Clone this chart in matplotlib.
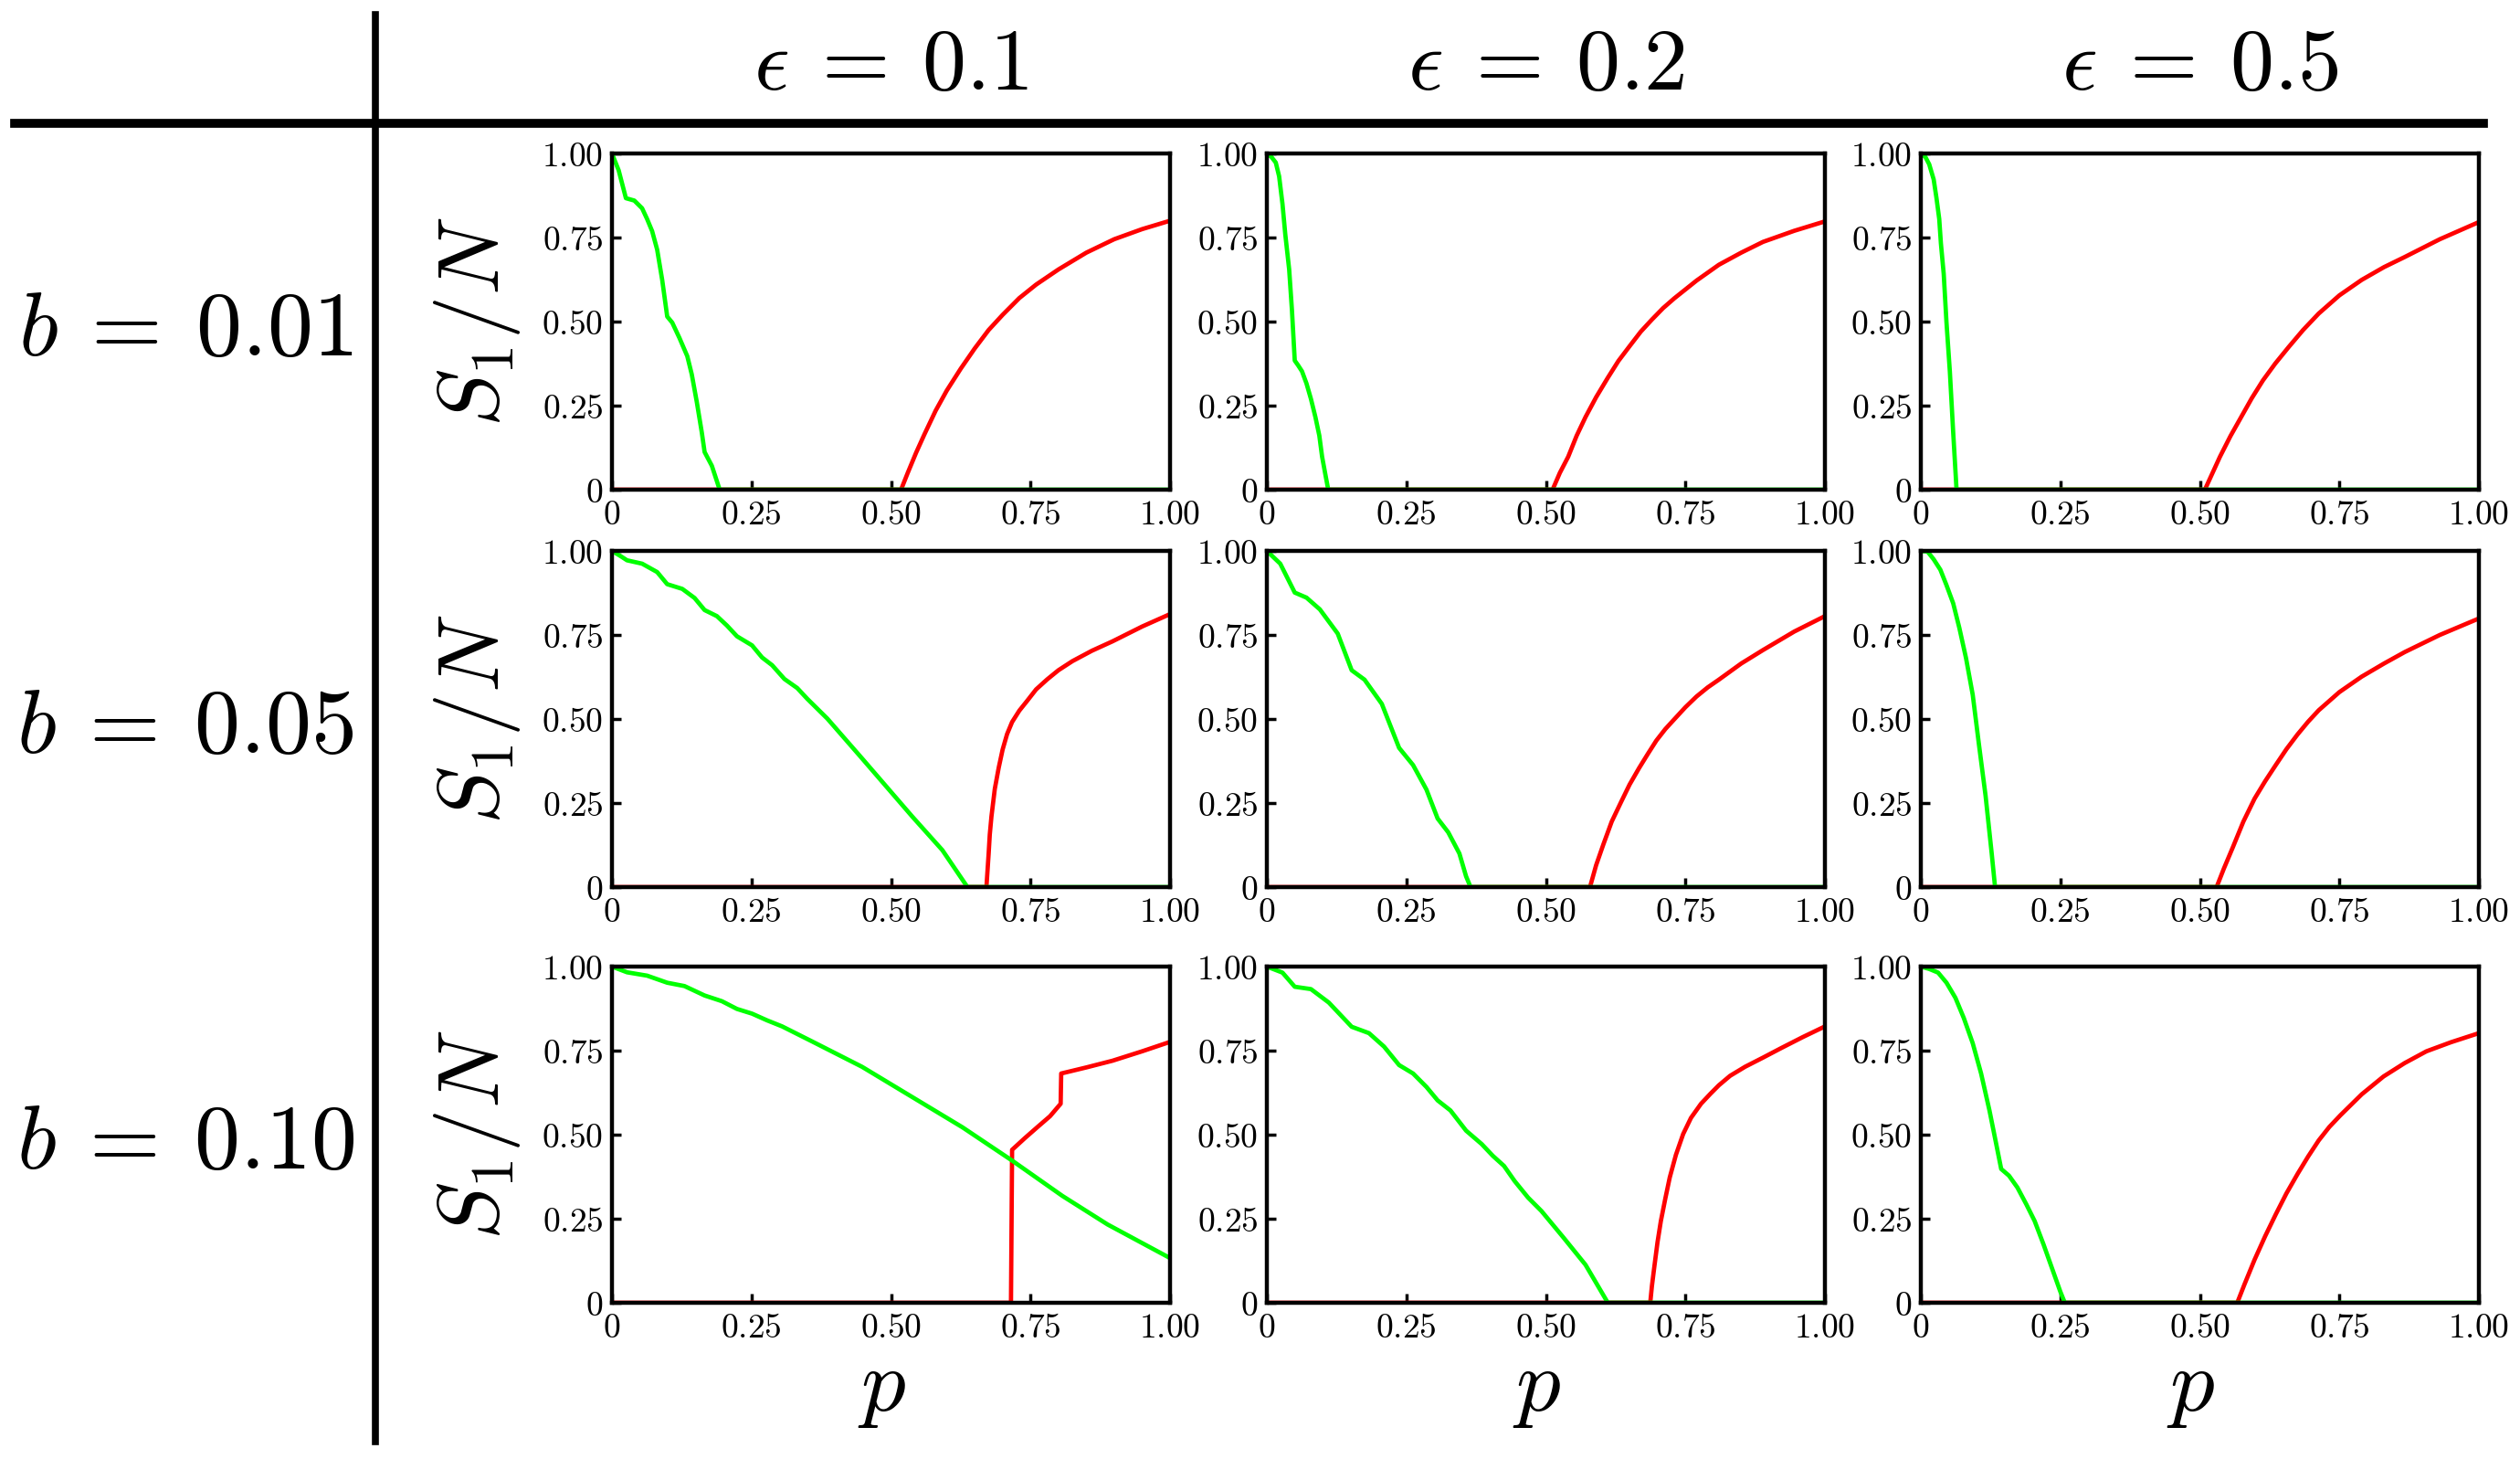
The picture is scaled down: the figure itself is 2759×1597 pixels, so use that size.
import matplotlib
import matplotlib.pyplot as plt
from matplotlib.lines import Line2D

matplotlib.use('Agg')
plt.rcParams['mathtext.fontset'] = 'cm'
plt.rcParams['font.family'] = 'serif'

b_labels = ['0.01', '0.05', '0.10']
eps_labels = ['0.1', '0.2', '0.5']
tick_vals = [0, 0.25, 0.5, 0.75, 1.0]
tick_labels = ['0', '0.25', '0.50', '0.75', '1.00']

# ---------------- b = 0.01 ----------------
green_p_b001_e01 = [0, 0.012, 0.025, 0.04, 0.054, 0.063, 0.072, 0.081, 0.09, 0.099, 0.108, 0.121, 0.135,
                    0.143, 0.152, 0.161, 0.166, 0.179, 0.193, 1.0]
green_s_b001_e01 = [1.0, 0.95, 0.867, 0.86, 0.837, 0.805, 0.769, 0.714, 0.624, 0.515, 0.497, 0.451, 0.397,
                    0.343, 0.261, 0.17, 0.112, 0.071, 0.0, 0.0]
red_p_b001_e01 = [0, 0.518, 0.53, 0.545, 0.56, 0.58, 0.60, 0.625, 0.65, 0.675, 0.70, 0.73, 0.76, 0.80,
                  0.85, 0.90, 0.95, 1.0]
red_s_b001_e01 = [0, 0, 0.05, 0.11, 0.165, 0.235, 0.295, 0.36, 0.42, 0.475, 0.52, 0.57, 0.61, 0.655,
                  0.705, 0.745, 0.775, 0.80]

green_p_b001_e02 = [0, 0.008, 0.016, 0.022, 0.028, 0.033, 0.04, 0.045, 0.05, 0.056, 0.063, 0.071, 0.079,
                    0.087, 0.094, 0.099, 0.105, 0.11, 1.0]
green_s_b001_e02 = [1.0, 0.99, 0.973, 0.932, 0.85, 0.76, 0.655, 0.533, 0.384, 0.37, 0.352, 0.316, 0.27,
                    0.216, 0.161, 0.098, 0.044, 0.0, 0.0]
red_p_b001_e02 = [0, 0.512, 0.525, 0.54, 0.555, 0.571, 0.59, 0.611, 0.63, 0.651, 0.67, 0.69, 0.71, 0.73,
                  0.77, 0.81, 0.85, 0.889, 0.945, 1.0]
red_s_b001_e02 = [0, 0, 0.05, 0.098, 0.16, 0.216, 0.275, 0.333, 0.383, 0.429, 0.47, 0.506, 0.54, 0.569,
                  0.622, 0.669, 0.705, 0.737, 0.77, 0.798]

green_p_b001_e05 = [0, 0.008, 0.015, 0.023, 0.028, 0.033, 0.036, 0.041, 0.046, 0.052, 0.058, 0.064, 1.0]
green_s_b001_e05 = [1.0, 0.99, 0.968, 0.923, 0.868, 0.805, 0.732, 0.642, 0.497, 0.352, 0.17, 0.0, 0.0]
red_p_b001_e05 = [0, 0.509, 0.52, 0.536, 0.555, 0.574, 0.593, 0.613, 0.635, 0.659, 0.685, 0.713, 0.75,
                  0.79, 0.83, 0.867, 0.93, 1.0]
red_s_b001_e05 = [0, 0, 0.04, 0.098, 0.16, 0.216, 0.272, 0.325, 0.375, 0.424, 0.475, 0.524, 0.578,
                  0.624, 0.662, 0.692, 0.745, 0.796]

# ---------------- b = 0.05 ----------------
green_p_b005_e01 = [0, 0.015, 0.027, 0.054, 0.081, 0.099, 0.126, 0.148, 0.166, 0.188, 0.206, 0.224, 0.251,
                    0.269, 0.287, 0.309, 0.332, 0.35, 0.386, 0.448, 0.538, 0.592, 0.637, 1.0]
green_s_b005_e01 = [1.0, 0.985, 0.972, 0.962, 0.937, 0.901, 0.887, 0.86, 0.824, 0.806, 0.778, 0.746, 0.719,
                    0.683, 0.66, 0.619, 0.592, 0.56, 0.501, 0.383, 0.21, 0.11, 0.0, 0.0]
red_p_b005_e01 = [0, 0.671, 0.673, 0.675, 0.677, 0.68, 0.686, 0.693, 0.700, 0.708, 0.717, 0.73, 0.744,
                  0.76, 0.78, 0.80, 0.825, 0.86, 0.897, 0.95, 1.0]
red_s_b005_e01 = [0, 0, 0.05, 0.10, 0.156, 0.21, 0.292, 0.355, 0.409, 0.455, 0.491, 0.525, 0.554,
                  0.588, 0.618, 0.645, 0.672, 0.703, 0.731, 0.775, 0.812]

green_p_b005_e02 = [0, 0.024, 0.05, 0.071, 0.095, 0.127, 0.152, 0.175, 0.206, 0.237, 0.262, 0.286, 0.306,
                    0.325, 0.345, 0.357, 0.365, 1.0]
green_s_b005_e02 = [1.0, 0.962, 0.876, 0.861, 0.826, 0.754, 0.645, 0.617, 0.545, 0.414, 0.363, 0.29, 0.204,
                    0.163, 0.1, 0.032, 0.0, 0.0]
red_p_b005_e02 = [0, 0.579, 0.59, 0.603, 0.618, 0.635, 0.65, 0.667, 0.683, 0.698, 0.714, 0.73, 0.75,
                  0.77, 0.79, 0.81, 0.85, 0.889, 0.945, 1.0]
red_s_b005_e02 = [0, 0, 0.065, 0.127, 0.195, 0.254, 0.305, 0.354, 0.397, 0.436, 0.47, 0.499, 0.535,
                  0.567, 0.594, 0.617, 0.665, 0.705, 0.76, 0.806]

green_p_b005_e05 = [0, 0.012, 0.023, 0.035, 0.046, 0.058, 0.069, 0.081, 0.093, 0.104, 0.116, 0.127,
                    0.133, 1.0]
green_s_b005_e05 = [1.0, 0.998, 0.975, 0.944, 0.898, 0.844, 0.771, 0.681, 0.572, 0.426, 0.272, 0.1,
                    0.0, 0.0]
red_p_b005_e05 = [0, 0.53, 0.543, 0.559, 0.578, 0.598, 0.617, 0.636, 0.655, 0.675, 0.694, 0.713, 0.75,
                  0.79, 0.83, 0.867, 0.93, 1.0]
red_s_b005_e05 = [0, 0, 0.055, 0.118, 0.195, 0.263, 0.315, 0.363, 0.41, 0.454, 0.492, 0.526, 0.58,
                  0.626, 0.665, 0.699, 0.75, 0.799]

# ---------------- b = 0.10 ----------------
green_p_b010_e01 = [0, 0.027, 0.063, 0.099, 0.13, 0.166, 0.197, 0.224, 0.251, 0.278, 0.305, 0.359, 0.448,
                    0.538, 0.628, 0.717, 0.807, 0.888, 1.0]
green_s_b010_e01 = [1.0, 0.983, 0.973, 0.952, 0.942, 0.914, 0.897, 0.874, 0.86, 0.84, 0.822, 0.777, 0.702,
                    0.612, 0.522, 0.423, 0.318, 0.233, 0.133]
red_p_b010_e01 = [0, 0.715, 0.717, 0.74, 0.762, 0.785, 0.804, 0.805, 0.85, 0.897, 0.95, 1.0]
red_s_b010_e01 = [0, 0, 0.455, 0.49, 0.522, 0.555, 0.592, 0.682, 0.70, 0.72, 0.748, 0.776]

green_p_b010_e02 = [0, 0.028, 0.05, 0.079, 0.111, 0.152, 0.183, 0.21, 0.237, 0.262, 0.286, 0.306, 0.329,
                    0.357, 0.385, 0.405, 0.425, 0.444, 0.468, 0.492, 0.532, 0.571, 0.611, 1.0]
green_s_b010_e02 = [1.0, 0.982, 0.94, 0.933, 0.893, 0.821, 0.802, 0.762, 0.707, 0.682, 0.642, 0.602, 0.572,
                    0.512, 0.472, 0.437, 0.407, 0.362, 0.313, 0.273, 0.193, 0.113, 0.0, 0.0]
red_p_b010_e02 = [0, 0.687, 0.69, 0.694, 0.70, 0.706, 0.714, 0.722, 0.733, 0.746, 0.76, 0.778, 0.795,
                  0.81, 0.83, 0.857, 0.89, 0.921, 0.96, 1.0]
red_s_b010_e02 = [0, 0, 0.05, 0.103, 0.18, 0.243, 0.31, 0.373, 0.44, 0.502, 0.55, 0.592, 0.622,
                  0.647, 0.675, 0.702, 0.73, 0.757, 0.79, 0.822]

green_p_b010_e05 = [0, 0.015, 0.031, 0.046, 0.062, 0.077, 0.093, 0.108, 0.123, 0.135, 0.144, 0.158,
                    0.173, 0.189, 0.204, 0.22, 0.235, 0.25, 0.258, 1.0]
green_s_b010_e05 = [1.0, 0.993, 0.982, 0.952, 0.907, 0.847, 0.772, 0.682, 0.572, 0.473, 0.398, 0.378,
                    0.343, 0.293, 0.243, 0.173, 0.103, 0.033, 0.0, 0.0]
red_p_b010_e05 = [0, 0.567, 0.58, 0.598, 0.617, 0.636, 0.655, 0.675, 0.694, 0.713, 0.732, 0.752, 0.79,
                  0.829, 0.867, 0.906, 0.95, 1.0]
red_s_b010_e05 = [0, 0, 0.055, 0.128, 0.198, 0.263, 0.325, 0.383, 0.435, 0.483, 0.523, 0.558, 0.62,
                  0.673, 0.713, 0.748, 0.775, 0.802]

panels = [
    [(green_p_b001_e01, green_s_b001_e01, red_p_b001_e01, red_s_b001_e01),
     (green_p_b001_e02, green_s_b001_e02, red_p_b001_e02, red_s_b001_e02),
     (green_p_b001_e05, green_s_b001_e05, red_p_b001_e05, red_s_b001_e05)],
    [(green_p_b005_e01, green_s_b005_e01, red_p_b005_e01, red_s_b005_e01),
     (green_p_b005_e02, green_s_b005_e02, red_p_b005_e02, red_s_b005_e02),
     (green_p_b005_e05, green_s_b005_e05, red_p_b005_e05, red_s_b005_e05)],
    [(green_p_b010_e01, green_s_b010_e01, red_p_b010_e01, red_s_b010_e01),
     (green_p_b010_e02, green_s_b010_e02, red_p_b010_e02, red_s_b010_e02),
     (green_p_b010_e05, green_s_b010_e05, red_p_b010_e05, red_s_b010_e05)],
]

GREEN = '#00ff00'
RED = '#ff0000'

FW, FH = 2759, 1597
fig = plt.figure(figsize=(FW / 100, FH / 100), dpi=100)

lefts = [670, 1387, 2103]
tops = [168, 603, 1058]
W, H = 611, 368

for i in range(3):
    for j in range(3):
        gp, gs, rp, rs = panels[i][j]
        ax = fig.add_axes([lefts[j] / FW, 1 - (tops[i] + H) / FH, W / FW, H / FH])
        ax.plot(rp, rs, color=RED, lw=3.4)
        ax.plot(gp, gs, color=GREEN, lw=3.4)
        ax.set_xlim(0, 1)
        ax.set_ylim(0, 1)
        ax.set_xticks(tick_vals)
        ax.set_yticks(tick_vals)
        ax.set_xticklabels(['$%s$' % t for t in tick_labels])
        ax.set_yticklabels(['$%s$' % t for t in tick_labels])
        ax.tick_params(direction='in', length=7, width=2.5, top=False, right=False,
                       labelsize=27, pad=7)
        for s in ax.spines.values():
            s.set_linewidth(3.2)

        cy = 1 - (tops[i] + H / 2) / FH
        if j == 0:
            fig.text(522 / FW, cy, r'$S_1/N$', rotation=90, ha='center', va='center', fontsize=68)
        if i == 2:
            fig.text((lefts[j] + W / 2 - 10) / FW, 1 - 1518 / FH, r'$p$', ha='center', va='center',
                     fontsize=70)

for j, e in enumerate(eps_labels):
    fig.text((lefts[j] + W / 2) / FW, 1 - 98 / FH, r'$\epsilon\:=\:%s$' % e, ha='center', va='baseline',
             fontsize=69)

for i, b in enumerate(b_labels):
    fig.text(203 / FW, 1 - (tops[i] + H / 2 + 37) / FH, r'$b\:=\:%s$' % b, ha='center', va='baseline',
             fontsize=72)

# table-like divider lines
fig.add_artist(Line2D([16 / FW, 2719 / FW], [1 - 135 / FH, 1 - 135 / FH], transform=fig.transFigure,
                      color='black', lw=7))
fig.add_artist(Line2D([411 / FW, 411 / FW], [1 - 16 / FH, 1 - 1578 / FH], transform=fig.transFigure,
                      color='black', lw=5.5))

fig.savefig('out.png', dpi=100)
